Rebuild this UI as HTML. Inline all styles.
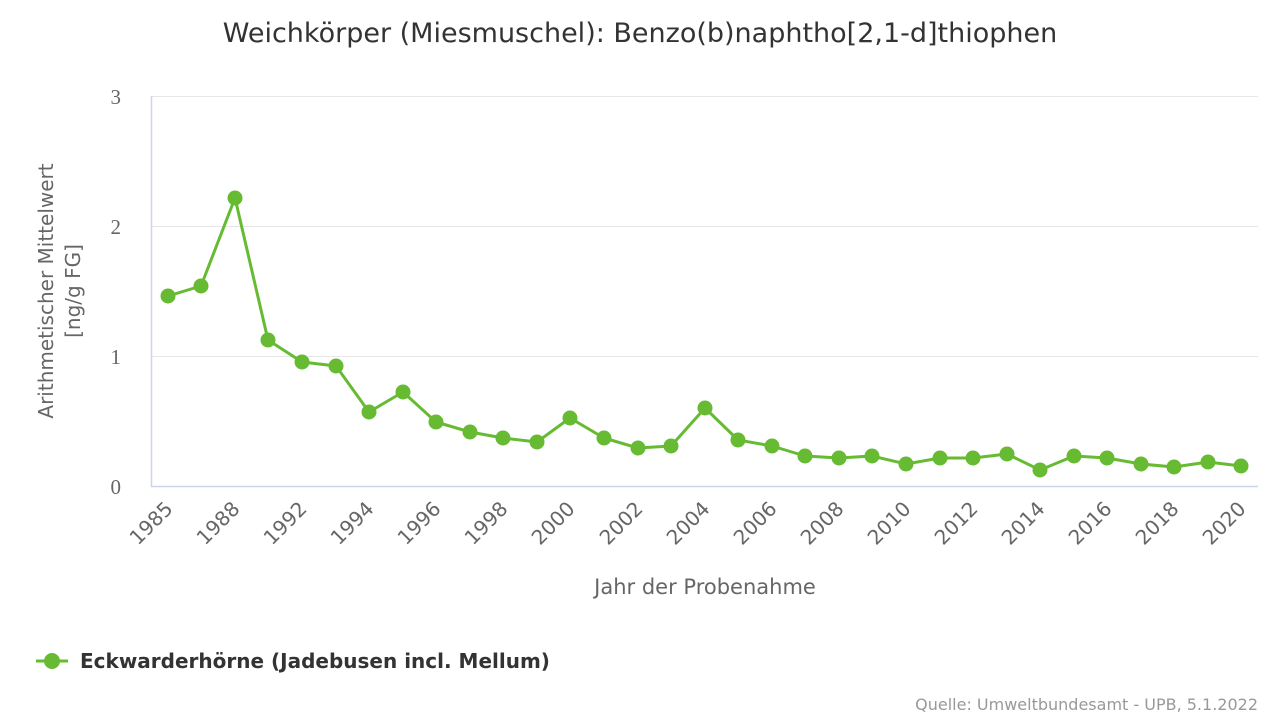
<!DOCTYPE html>
<html><head><meta charset="utf-8"><style>
body{margin:0;background:#fff;}
svg{display:block;font-family:"DejaVu Sans","Liberation Sans",sans-serif;}
</style></head><body>
<svg width="1280" height="720" viewBox="0 0 1280 720">
<text x="640" y="42" text-anchor="middle" font-size="27" fill="#333">Weichkörper (Miesmuschel): Benzo(b)naphtho[2,1-d]thiophen</text>
<g stroke="#e6e6e6" stroke-width="1">
<line x1="151" y1="96.5" x2="1258" y2="96.5"/>
<line x1="151" y1="226.5" x2="1258" y2="226.5"/>
<line x1="151" y1="356.5" x2="1258" y2="356.5"/>
</g>
<line x1="151" y1="486.5" x2="1258" y2="486.5" stroke="#ccd6eb" stroke-width="1.5"/>
<line x1="151.5" y1="96" x2="151.5" y2="487" stroke="#ccd6eb" stroke-width="1.5"/>
<g font-size="21" fill="#666" text-anchor="end" font-family="Liberation Serif,serif">
<text x="121" y="104">3</text><text x="121" y="234">2</text><text x="121" y="364">1</text><text x="121" y="494">0</text>
</g>
<text transform="translate(53,291) rotate(-90)" text-anchor="middle" font-size="20" fill="#666">Arithmetischer Mittelwert</text>
<text transform="translate(80,291) rotate(-90)" text-anchor="middle" font-size="20" fill="#666">[ng/g FG]</text>
<g font-size="20" fill="#666" text-anchor="end">
<text transform="translate(174,510) rotate(-45)">1985</text>
<text transform="translate(241,510) rotate(-45)">1988</text>
<text transform="translate(308,510) rotate(-45)">1992</text>
<text transform="translate(375,510) rotate(-45)">1994</text>
<text transform="translate(442,510) rotate(-45)">1996</text>
<text transform="translate(509,510) rotate(-45)">1998</text>
<text transform="translate(576,510) rotate(-45)">2000</text>
<text transform="translate(644,510) rotate(-45)">2002</text>
<text transform="translate(711,510) rotate(-45)">2004</text>
<text transform="translate(778,510) rotate(-45)">2006</text>
<text transform="translate(845,510) rotate(-45)">2008</text>
<text transform="translate(912,510) rotate(-45)">2010</text>
<text transform="translate(979,510) rotate(-45)">2012</text>
<text transform="translate(1046,510) rotate(-45)">2014</text>
<text transform="translate(1113,510) rotate(-45)">2016</text>
<text transform="translate(1180,510) rotate(-45)">2018</text>
<text transform="translate(1247,510) rotate(-45)">2020</text>
</g>
<text x="705" y="594" text-anchor="middle" font-size="21" fill="#666">Jahr der Probenahme</text>
<polyline fill="none" stroke="#66bb33" stroke-width="3" stroke-linejoin="round" points="168,296 201,286 235,198 268,340 302,362 336,366 369,412 403,392 436,422 470,432 503,438 537,442 570,418 604,438 638,448 671,446 705,408 738,440 772,446 805,456 839,458 872,456 906,464 940,458 973,458 1007,454 1040,470 1074,456 1107,458 1141,464 1174,467 1208,462 1241,466"/>
<g fill="#66bb33">
<circle cx="168" cy="296" r="7.5"/><circle cx="201" cy="286" r="7.5"/><circle cx="235" cy="198" r="7.5"/><circle cx="268" cy="340" r="7.5"/><circle cx="302" cy="362" r="7.5"/><circle cx="336" cy="366" r="7.5"/><circle cx="369" cy="412" r="7.5"/><circle cx="403" cy="392" r="7.5"/><circle cx="436" cy="422" r="7.5"/><circle cx="470" cy="432" r="7.5"/><circle cx="503" cy="438" r="7.5"/><circle cx="537" cy="442" r="7.5"/><circle cx="570" cy="418" r="7.5"/><circle cx="604" cy="438" r="7.5"/><circle cx="638" cy="448" r="7.5"/><circle cx="671" cy="446" r="7.5"/><circle cx="705" cy="408" r="7.5"/><circle cx="738" cy="440" r="7.5"/><circle cx="772" cy="446" r="7.5"/><circle cx="805" cy="456" r="7.5"/><circle cx="839" cy="458" r="7.5"/><circle cx="872" cy="456" r="7.5"/><circle cx="906" cy="464" r="7.5"/><circle cx="940" cy="458" r="7.5"/><circle cx="973" cy="458" r="7.5"/><circle cx="1007" cy="454" r="7.5"/><circle cx="1040" cy="470" r="7.5"/><circle cx="1074" cy="456" r="7.5"/><circle cx="1107" cy="458" r="7.5"/><circle cx="1141" cy="464" r="7.5"/><circle cx="1174" cy="467" r="7.5"/><circle cx="1208" cy="462" r="7.5"/><circle cx="1241" cy="466" r="7.5"/>
</g>
<line x1="36" y1="661" x2="68" y2="661" stroke="#66bb33" stroke-width="3"/>
<circle cx="52" cy="661" r="8" fill="#66bb33"/>
<text x="80" y="668" font-size="20" font-weight="bold" fill="#333">Eckwarderhörne (Jadebusen incl. Mellum)</text>
<text x="1258" y="710" text-anchor="end" font-size="16" fill="#999">Quelle: Umweltbundesamt - UPB, 5.1.2022</text>
</svg>
</body></html>
